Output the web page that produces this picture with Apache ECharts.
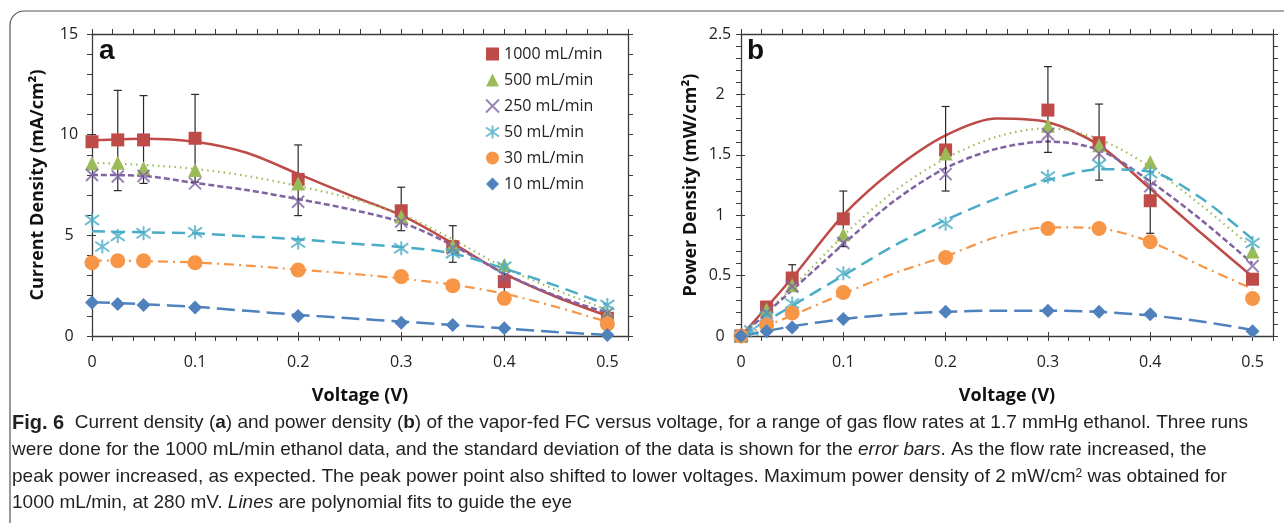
<!DOCTYPE html>
<html>
<head>
<meta charset="utf-8">
<script src="https://cdn.jsdelivr.net/npm/echarts@6/dist/echarts.min.js"></script>
<style>
  html, body { margin: 0; background: #fff; }
  #chart { width: 1284px; height: 523px; }
</style>
</head>
<body>
<div id="chart"></div>
<script>
  // measured voltages (V)
  const volts = [0, 0.025, 0.05, 0.1, 0.2, 0.3, 0.35, 0.4, 0.5]
  const volts50 = [0, 0.01, 0.025, 0.05, 0.1, 0.2, 0.3, 0.35, 0.4, 0.5]

  // current density (mA/cm2), panel a
  const cur1000 = [9.65, 9.74, 9.74, 9.82, 7.78, 6.22, 4.44, 2.70, 0.88]
  const cur500 = [8.58, 8.61, 8.33, 8.25, 7.58, 5.93, 4.50, 3.53, 1.13]
  const cur250 = [8.00, 7.92, 7.95, 7.58, 6.67, 5.68, 4.36, 2.95, 1.13]
  const cur50 = [5.76, 4.44, 4.97, 5.10, 5.15, 4.64, 4.36, 4.11, 3.44, 1.54]
  const cur30 = [3.64, 3.74, 3.74, 3.64, 3.28, 2.95, 2.50, 1.87, 0.60]
  const cur10 = [1.66, 1.59, 1.54, 1.42, 0.99, 0.66, 0.55, 0.38, 0.05]

  // power density (mW/cm2), panel b
  const pow1000 = [0, 0.24, 0.48, 0.97, 1.54, 1.87, 1.60, 1.12, 0.47]
  const pow500 = [0, 0.22, 0.42, 0.84, 1.51, 1.74, 1.58, 1.44, 0.70]
  const pow250 = [0, 0.19, 0.41, 0.77, 1.34, 1.67, 1.51, 1.24, 0.58]
  const pow50 = [0, 0.045, 0.16, 0.27, 0.52, 0.93, 1.32, 1.42, 1.35, 0.77]
  const pow30 = [0, 0.09, 0.19, 0.36, 0.65, 0.89, 0.89, 0.78, 0.31]
  const pow10 = [0, 0.04, 0.07, 0.14, 0.20, 0.21, 0.20, 0.18, 0.04]

  // error bars of the 1000 mL/min runs
  const errVolts = [0.025, 0.05, 0.1, 0.2, 0.3, 0.35, 0.4]
  const curLow = [7.22, 7.58, 7.64, 5.98, 5.23, 3.66, 2.05]
  const curHigh = [12.2, 11.94, 12.0, 9.49, 7.39, 5.48, 3.35]
  const powLow = [0.19, 0.37, 0.74, 1.20, 1.52, 1.29, 0.85]
  const powHigh = [0.28, 0.59, 1.20, 1.90, 2.23, 1.92, 1.39]

  // polynomial fit curves
  const fitVolts = [0, 0.05, 0.1, 0.15, 0.2, 0.25, 0.3, 0.35, 0.4, 0.45, 0.5]
  const curFit1000 = [9.72, 9.80, 9.65, 9.10, 8.05, 7.00, 6.00, 4.60, 3.10, 1.95, 1.00]
  const curFit500 = [8.60, 8.50, 8.30, 7.95, 7.45, 6.85, 6.05, 4.80, 3.40, 2.30, 1.30]
  const curFit250 = [8.00, 7.95, 7.60, 7.25, 6.80, 6.30, 5.65, 4.50, 3.10, 2.00, 1.15]
  const curFit50 = [5.20, 5.15, 5.10, 4.95, 4.80, 4.60, 4.42, 4.10, 3.35, 2.50, 1.55]
  const curFit30 = [3.75, 3.72, 3.65, 3.50, 3.30, 3.10, 2.85, 2.55, 2.10, 1.45, 0.70]
  const curFit10 = [1.68, 1.58, 1.45, 1.25, 1.05, 0.88, 0.72, 0.55, 0.38, 0.20, 0.05]
  const powFit1000 = [0, 0.48, 1.00, 1.38, 1.66, 1.80, 1.77, 1.58, 1.22, 0.85, 0.49]
  const powFit500 = [0, 0.40, 0.83, 1.20, 1.47, 1.65, 1.72, 1.63, 1.40, 1.08, 0.73]
  const powFit250 = [0, 0.38, 0.76, 1.12, 1.39, 1.55, 1.61, 1.54, 1.28, 0.96, 0.60]
  const powFit50 = [0, 0.25, 0.50, 0.75, 0.96, 1.14, 1.29, 1.38, 1.36, 1.14, 0.80]
  const powFit30 = [0, 0.17, 0.35, 0.52, 0.66, 0.82, 0.90, 0.89, 0.78, 0.58, 0.39]
  const powFit10 = [0, 0.08, 0.14, 0.18, 0.20, 0.21, 0.21, 0.20, 0.17, 0.12, 0.05]

  const FONT = "'Open Sans', 'Liberation Sans', sans-serif"
  const CAP_FONT = "'Liberation Sans', 'Noto Sans', sans-serif"
  const AXIS_COLOR = '#3c3c3c'
  const X_PATH = 'path://M0,0L10,10M10,0L0,10'
  const STAR_PATH = 'path://M0,1.5L10,8.5M10,1.5L0,8.5M5,0L5,10'

  const looks = [
    {name: '1000 mL/min', color: '#BE4B48', symbol: 'rect', size: 13, dash: 'solid', width: 2.5},
    {name: '500 mL/min', color: '#9BBB59', symbol: 'triangle', size: 14, dash: [1.5, 4], width: 2.2},
    {name: '250 mL/min', color: '#8064A2', symbol: X_PATH, size: 12, stroke: true, dash: [6, 3], width: 2.5},
    {name: '50 mL/min', color: '#4BACC6', symbol: STAR_PATH, size: 14, stroke: true, dash: [13, 7], width: 2.5},
    {name: '30 mL/min', color: '#F79646', symbol: 'circle', size: 15, dash: [10, 5, 2, 5], width: 2.2},
    {name: '10 mL/min', color: '#4F81BD', symbol: 'diamond', size: 14, dash: [18, 7], width: 2.5}
  ]

  const zip = (xs, ys) => xs.map((x, i) => [x, ys[i]])
  const near = (v, step) => Math.abs(v / step - Math.round(v / step)) < 1e-6

  function errorBar(params, api) {
    const x = api.value(0)
    const lo = api.coord([x, api.value(1)])
    const hi = api.coord([x, api.value(2)])
    const c = 4
    const st = {stroke: '#2a2a2a', lineWidth: 1.2}
    return {
      type: 'group',
      children: [
        {type: 'line', shape: {x1: lo[0], y1: lo[1], x2: hi[0], y2: hi[1]}, style: st},
        {type: 'line', shape: {x1: lo[0] - c, y1: lo[1], x2: lo[0] + c, y2: lo[1]}, style: st},
        {type: 'line', shape: {x1: hi[0] - c, y1: hi[1], x2: hi[0] + c, y2: hi[1]}, style: st}
      ]
    }
  }

  const titleStyle = {fontFamily: FONT, fontWeight: 'bold', fontSize: 18, color: '#111'}

  function xAxes(grid) {
    const common = {type: 'value', gridIndex: grid, min: 0, max: 0.52, splitLine: {show: false}}
    return [
      Object.assign({}, common, {
        position: 'bottom', interval: 0.02,
        name: 'Voltage (V)', nameLocation: 'middle', nameGap: 51,
        nameTextStyle: titleStyle,
        axisLine: {onZero: false, lineStyle: {color: AXIS_COLOR, width: 1.3}},
        axisTick: {length: 5, lineStyle: {color: AXIS_COLOR}},
        axisLabel: {margin: 18, fontFamily: FONT, fontSize: 16, color: '#222',
          formatter: v => near(v, 0.1) ? String(Math.round(v * 10) / 10) : ''}
      }),
      Object.assign({}, common, {
        position: 'bottom', interval: 0.1,
        axisLine: {show: false, onZero: false},
        axisTick: {inside: true, length: 4, lineStyle: {color: AXIS_COLOR}},
        axisLabel: {show: false}
      }),
      Object.assign({}, common, {
        position: 'top', interval: 0.02,
        axisLine: {onZero: false, lineStyle: {color: AXIS_COLOR, width: 1.3}},
        axisTick: {length: 5, lineStyle: {color: AXIS_COLOR}},
        axisLabel: {show: false}
      })
    ]
  }

  function yAxes(grid, max, minor, major, title, gap, margin) {
    const common = {type: 'value', gridIndex: grid, min: 0, max: max, splitLine: {show: false}}
    return [
      Object.assign({}, common, {
        position: 'left', interval: minor,
        name: title, nameLocation: 'middle', nameGap: gap,
        nameTextStyle: titleStyle,
        axisLine: {onZero: false, lineStyle: {color: AXIS_COLOR, width: 1.3}},
        axisTick: {length: 5, lineStyle: {color: AXIS_COLOR}},
        axisLabel: {margin: margin, align: 'center', fontFamily: FONT, fontSize: 16, color: '#222',
          formatter: v => near(v, major) ? String(Math.round(v * 10) / 10) : ''}
      }),
      Object.assign({}, common, {
        position: 'left', interval: major,
        axisLine: {show: false, onZero: false},
        axisTick: {inside: true, length: 4, lineStyle: {color: AXIS_COLOR}},
        axisLabel: {show: false}
      }),
      Object.assign({}, common, {
        position: 'right', interval: minor,
        axisLine: {onZero: false, lineStyle: {color: AXIS_COLOR, width: 1.3}},
        axisTick: {length: 5, lineStyle: {color: AXIS_COLOR}},
        axisLabel: {show: false}
      })
    ]
  }

  function panelSeries(axis, xsets, points, fits, errLow, errHigh) {
    const out = []
    looks.forEach((lk, i) => {
      out.push({
        type: 'line', name: lk.name + ' fit', xAxisIndex: axis, yAxisIndex: axis,
        data: zip(fitVolts, fits[i]), symbol: 'none', smooth: 0.3, silent: true, z: 2,
        lineStyle: {color: lk.color, width: lk.width, type: lk.dash}
      })
    })
    out.push({
      type: 'custom', name: 'error', xAxisIndex: axis, yAxisIndex: axis, z: 3, silent: true,
      renderItem: errorBar, encode: {x: 0, y: [1, 2]},
      data: errVolts.map((v, i) => [v, errLow[i], errHigh[i]])
    })
    looks.forEach((lk, i) => {
      out.push({
        type: 'scatter', name: lk.name, xAxisIndex: axis, yAxisIndex: axis, z: 4, silent: true,
        data: zip(xsets[i], points[i]), symbol: lk.symbol, symbolSize: lk.size,
        itemStyle: lk.stroke
          ? {color: 'rgba(0,0,0,0)', borderColor: lk.color, borderWidth: 2}
          : {color: lk.color, opacity: 1}
      })
    })
    return out
  }

  const xsets = [volts, volts, volts, volts50, volts, volts]
  const series = [].concat(
    panelSeries(0, xsets,
      [cur1000, cur500, cur250, cur50, cur30, cur10],
      [curFit1000, curFit500, curFit250, curFit50, curFit30, curFit10],
      curLow, curHigh),
    panelSeries(3, xsets,
      [pow1000, pow500, pow250, pow50, pow30, pow10],
      [powFit1000, powFit500, powFit250, powFit50, powFit30, powFit10],
      powLow, powHigh)
  )

  function captionLine(y, text) {
    const sz = 19
    return {
      type: 'text', x: 12, y: y,
      style: {
        text: text, fill: '#231f20', fontFamily: CAP_FONT, fontSize: sz, verticalAlign: 'middle',
        rich: {
          b: {fontFamily: CAP_FONT, fontSize: sz, fontWeight: 'bold', fill: '#231f20'},
          f: {fontFamily: CAP_FONT, fontSize: sz + 1, fontWeight: 'bold', fill: '#231f20'},
          i: {fontFamily: CAP_FONT, fontSize: sz, fontStyle: 'italic', fill: '#231f20'},
          s: {fontFamily: CAP_FONT, fontSize: 12, fill: '#231f20', verticalAlign: 'top'}
        }
      }
    }
  }

  const chart = echarts.init(document.getElementById('chart'))
  chart.setOption({
    backgroundColor: '#fff',
    animation: false,
    grid: [
      {left: 92, top: 34, width: 536, height: 302},
      {left: 741, top: 34, width: 532, height: 302}
    ],
    xAxis: [].concat(xAxes(0), xAxes(1)),
    yAxis: [].concat(
      yAxes(0, 15, 1, 5, 'Current Density (mA/cm²)', 45, 23),
      yAxes(1, 2.5, 0.1, 0.5, 'Power Density (mW/cm²)', 41, 21)
    ),
    legend: {
      left: 480, top: 41, orient: 'vertical', selectedMode: false,
      itemWidth: 13, itemHeight: 13, itemGap: 10,
      textStyle: {fontFamily: FONT, fontSize: 16, color: '#222', lineHeight: 16},
      data: looks.map(lk => ({name: lk.name, icon: lk.symbol}))
    },
    graphic: [
      {
        type: 'rect', shape: {x: 10, y: 11, width: 1400, height: 700, r: 14},
        style: {fill: 'none', stroke: '#555', lineWidth: 1.2}, silent: true
      },
      {type: 'text', x: 99, y: 51, style: {text: 'a', fontFamily: CAP_FONT, fontSize: 28, fontWeight: 'bold', fill: '#111', verticalAlign: 'middle'}},
      {type: 'text', x: 747, y: 51, style: {text: 'b', fontFamily: CAP_FONT, fontSize: 28, fontWeight: 'bold', fill: '#111', verticalAlign: 'middle'}},
      captionLine(423, '{f|Fig. 6}  Current density ({b|a}) and power density ({b|b}) of the vapor-fed FC versus voltage, for a range of gas flow rates at 1.7 mmHg ethanol. Three runs'),
      captionLine(450, 'were done for the 1000 mL/min ethanol data, and the standard deviation of the data is shown for the {i|error bars}. As the flow rate increased, the'),
      captionLine(477, 'peak power increased, as expected. The peak power point also shifted to lower voltages. Maximum power density of 2 mW/cm{s|2} was obtained for'),
      captionLine(503, '1000 mL/min, at 280 mV. {i|Lines} are polynomial fits to guide the eye')
    ],
    series: series
  })
</script>
</body>
</html>
